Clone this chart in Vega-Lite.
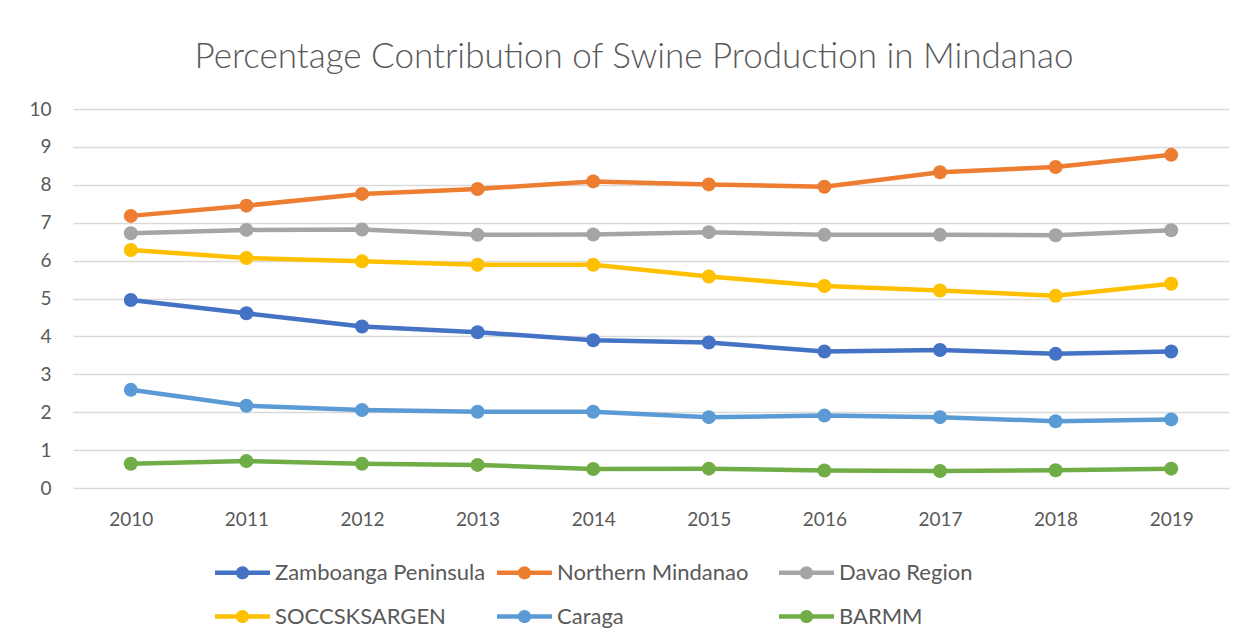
{
  "$schema": "https://vega.github.io/schema/vega-lite/v6.json",
  "width": 1156,
  "height": 379,
  "autosize": {"type": "none"},
  "padding": {"left": 73, "top": 109, "right": 16, "bottom": 156},
  "background": "white",
  "title": {
    "text": "Percentage Contribution of Swine Production in Mindanao",
    "font": "Lato",
    "fontSize": 35,
    "fontWeight": 300,
    "color": "#595959",
    "anchor": "middle",
    "frame": "group",
    "offset": 25,
    "dx": -17
  },
  "data": {
    "values": [
      {"year": "2010", "region": "Zamboanga Peninsula", "value": 4.96},
      {"year": "2011", "region": "Zamboanga Peninsula", "value": 4.61},
      {"year": "2012", "region": "Zamboanga Peninsula", "value": 4.26},
      {"year": "2013", "region": "Zamboanga Peninsula", "value": 4.11},
      {"year": "2014", "region": "Zamboanga Peninsula", "value": 3.90},
      {"year": "2015", "region": "Zamboanga Peninsula", "value": 3.84},
      {"year": "2016", "region": "Zamboanga Peninsula", "value": 3.60},
      {"year": "2017", "region": "Zamboanga Peninsula", "value": 3.64},
      {"year": "2018", "region": "Zamboanga Peninsula", "value": 3.54},
      {"year": "2019", "region": "Zamboanga Peninsula", "value": 3.60},
      {"year": "2010", "region": "Northern Mindanao", "value": 7.18},
      {"year": "2011", "region": "Northern Mindanao", "value": 7.45},
      {"year": "2012", "region": "Northern Mindanao", "value": 7.76},
      {"year": "2013", "region": "Northern Mindanao", "value": 7.89},
      {"year": "2014", "region": "Northern Mindanao", "value": 8.09},
      {"year": "2015", "region": "Northern Mindanao", "value": 8.01},
      {"year": "2016", "region": "Northern Mindanao", "value": 7.95},
      {"year": "2017", "region": "Northern Mindanao", "value": 8.33},
      {"year": "2018", "region": "Northern Mindanao", "value": 8.47},
      {"year": "2019", "region": "Northern Mindanao", "value": 8.79},
      {"year": "2010", "region": "Davao Region", "value": 6.72},
      {"year": "2011", "region": "Davao Region", "value": 6.81},
      {"year": "2012", "region": "Davao Region", "value": 6.82},
      {"year": "2013", "region": "Davao Region", "value": 6.68},
      {"year": "2014", "region": "Davao Region", "value": 6.69},
      {"year": "2015", "region": "Davao Region", "value": 6.75},
      {"year": "2016", "region": "Davao Region", "value": 6.68},
      {"year": "2017", "region": "Davao Region", "value": 6.68},
      {"year": "2018", "region": "Davao Region", "value": 6.67},
      {"year": "2019", "region": "Davao Region", "value": 6.80},
      {"year": "2010", "region": "SOCCSKSARGEN", "value": 6.28},
      {"year": "2011", "region": "SOCCSKSARGEN", "value": 6.07},
      {"year": "2012", "region": "SOCCSKSARGEN", "value": 5.98},
      {"year": "2013", "region": "SOCCSKSARGEN", "value": 5.89},
      {"year": "2014", "region": "SOCCSKSARGEN", "value": 5.89},
      {"year": "2015", "region": "SOCCSKSARGEN", "value": 5.58},
      {"year": "2016", "region": "SOCCSKSARGEN", "value": 5.33},
      {"year": "2017", "region": "SOCCSKSARGEN", "value": 5.21},
      {"year": "2018", "region": "SOCCSKSARGEN", "value": 5.07},
      {"year": "2019", "region": "SOCCSKSARGEN", "value": 5.39},
      {"year": "2010", "region": "Caraga", "value": 2.59},
      {"year": "2011", "region": "Caraga", "value": 2.17},
      {"year": "2012", "region": "Caraga", "value": 2.06},
      {"year": "2013", "region": "Caraga", "value": 2.01},
      {"year": "2014", "region": "Caraga", "value": 2.01},
      {"year": "2015", "region": "Caraga", "value": 1.87},
      {"year": "2016", "region": "Caraga", "value": 1.91},
      {"year": "2017", "region": "Caraga", "value": 1.87},
      {"year": "2018", "region": "Caraga", "value": 1.76},
      {"year": "2019", "region": "Caraga", "value": 1.81},
      {"year": "2010", "region": "BARMM", "value": 0.64},
      {"year": "2011", "region": "BARMM", "value": 0.71},
      {"year": "2012", "region": "BARMM", "value": 0.64},
      {"year": "2013", "region": "BARMM", "value": 0.61},
      {"year": "2014", "region": "BARMM", "value": 0.50},
      {"year": "2015", "region": "BARMM", "value": 0.51},
      {"year": "2016", "region": "BARMM", "value": 0.46},
      {"year": "2017", "region": "BARMM", "value": 0.45},
      {"year": "2018", "region": "BARMM", "value": 0.47},
      {"year": "2019", "region": "BARMM", "value": 0.51}
    ]
  },
  "mark": {
    "type": "line",
    "strokeWidth": 4.5,
    "point": {"filled": true, "size": 196, "opacity": 1}
  },
  "encoding": {
    "x": {
      "field": "year",
      "type": "ordinal",
      "scale": {"type": "point", "padding": 0.5},
      "axis": {
        "title": null,
        "labelAngle": 0,
        "labelFontSize": 19,
        "labelColor": "#595959",
        "labelPadding": 22,
        "ticks": false,
        "domain": false,
        "grid": false
      }
    },
    "y": {
      "field": "value",
      "type": "quantitative",
      "scale": {"domain": [0, 10], "nice": false},
      "axis": {
        "title": null,
        "values": [0, 1, 2, 3, 4, 5, 6, 7, 8, 9, 10],
        "labelFontSize": 19,
        "labelColor": "#595959",
        "labelPadding": 22,
        "ticks": false,
        "domain": false,
        "grid": true,
        "gridColor": "#D9D9D9",
        "gridWidth": 1.3
      }
    },
    "color": {
      "field": "region",
      "type": "nominal",
      "scale": {
        "domain": ["Zamboanga Peninsula", "Northern Mindanao", "Davao Region", "SOCCSKSARGEN", "Caraga", "BARMM"],
        "range": ["#4472C4", "#ED7D31", "#A5A5A5", "#FFC000", "#5B9BD5", "#70AD47"]
      },
      "legend": {
        "title": null,
        "orient": "none",
        "legendX": 142,
        "legendY": 436,
        "direction": "horizontal",
        "columns": 3,
        "gridAlign": "all",
        "columnPadding": 11,
        "rowPadding": 5,
        "labelFontSize": 22,
        "labelLimit": 0,
        "labelColor": "#595959",
        "labelOffset": 5,
        "symbolType": "M-1,-0.08H1V0.08H-1Z M-0.24,0A0.24,0.24,0,1,1,0.24,0A0.24,0.24,0,1,1,-0.24,0Z",
        "symbolSize": 3025,
        "symbolStrokeWidth": 0,
        "encode": {
          "symbols": {
            "update": {
              "fill": {"scale": "color", "field": "value"},
              "fillOpacity": {"value": 1},
              "strokeWidth": {"value": 0}
            }
          }
        }
      }
    }
  },
  "config": {
    "font": "Lato",
    "view": {"stroke": null}
  }
}
